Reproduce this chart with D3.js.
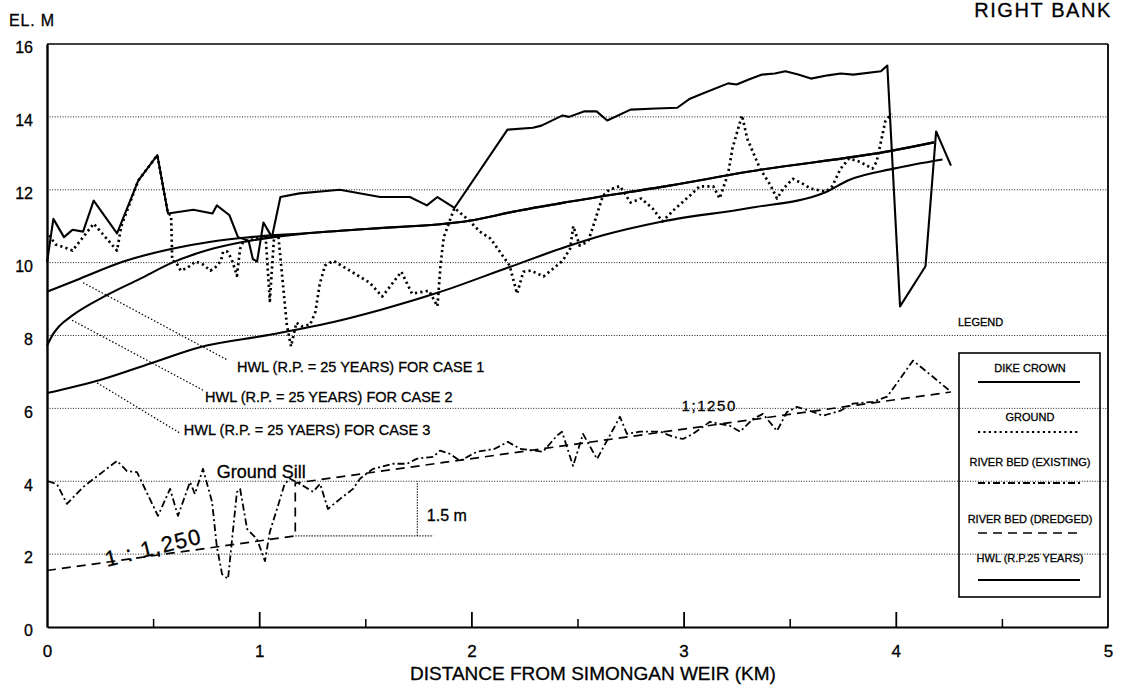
<!DOCTYPE html>
<html>
<head>
<meta charset="utf-8">
<script src="https://cdn.jsdelivr.net/npm/d3@7"></script>
<style>
  body { margin: 0; background: #fff; }
  svg { display: block; font-family: "Liberation Sans", Arial, Helvetica, sans-serif; }
  svg text { fill: #000; stroke: #000; stroke-width: 0.3px; }
</style>
</head>
<body>
<svg id="chart" width="1123" height="697"></svg>
<script>
// ---- axis ticks ----
const yTicks = [0, 2, 4, 6, 8, 10, 12, 14, 16];
const yGrid = [2, 4, 6, 8, 10, 12, 14];
const xTicks = [0, 1, 2, 3, 4, 5];
const xMinorTicks = [0.5, 1.5, 2.5, 3.5, 4.5];

// ---- profiles along the river: [distance km, elevation m] ----
const dikeCrown = [
  [0, 10.0], [0.03, 11.2], [0.08, 10.7], [0.12, 10.9], [0.17, 10.85], [0.22, 11.7],
  [0.33, 10.8], [0.43, 12.25], [0.52, 12.95], [0.57, 11.35], [0.69, 11.45], [0.78, 11.35],
  [0.80, 11.57], [0.86, 11.3], [0.90, 10.7], [0.95, 10.6], [0.97, 10.1], [0.99, 10.03],
  [1.02, 11.1], [1.06, 10.7], [1.10, 11.8], [1.19, 11.9], [1.38, 12.0], [1.57, 11.8],
  [1.71, 11.8], [1.79, 11.57], [1.84, 11.8], [1.92, 11.5], [2.17, 13.65], [2.29, 13.7],
  [2.33, 13.76], [2.43, 14.04], [2.46, 14.0], [2.53, 14.15], [2.59, 14.15], [2.64, 13.9],
  [2.75, 14.2], [2.87, 14.23], [2.97, 14.25], [3.03, 14.5], [3.09, 14.64], [3.21, 14.92],
  [3.25, 14.89], [3.31, 15.03], [3.37, 15.16], [3.43, 15.19], [3.48, 15.25], [3.54, 15.16],
  [3.60, 15.05], [3.68, 15.14], [3.74, 15.19], [3.80, 15.16], [3.93, 15.25], [3.96, 15.41],
  [4.02, 8.8], [4.14, 9.9], [4.19, 13.6], [4.26, 12.66]
];

const ground = [
  [0.01, 10.75], [0.04, 10.5], [0.09, 10.4], [0.12, 10.33], [0.22, 11.07], [0.33, 10.33],
  [0.35, 11.0], [0.43, 12.25], [0.52, 12.95], [0.57, 11.35], [0.585, 11.3], [0.59, 10.05],
  [0.61, 10.0], [0.63, 9.78], [0.66, 9.85], [0.70, 10.03], [0.735, 9.95], [0.77, 9.78],
  [0.79, 9.85], [0.82, 10.05], [0.83, 10.3], [0.85, 10.3], [0.87, 10.1], [0.895, 9.64],
  [0.91, 10.38], [0.925, 10.58], [0.96, 10.62], [1.0, 10.7], [1.03, 10.75], [1.05, 8.95],
  [1.07, 10.7], [1.09, 10.75], [1.13, 8.3], [1.15, 7.7], [1.175, 8.35], [1.2, 8.25],
  [1.24, 8.3], [1.265, 8.65], [1.285, 9.4], [1.31, 9.92], [1.35, 10.05], [1.45, 9.7],
  [1.52, 9.45], [1.58, 9.07], [1.67, 9.75], [1.72, 9.15], [1.8, 9.23], [1.84, 8.8],
  [1.855, 9.97], [1.87, 10.7], [1.92, 11.5], [1.99, 11.15], [2.04, 10.85], [2.09, 10.66],
  [2.18, 9.92], [2.215, 9.15], [2.245, 9.75], [2.28, 9.78], [2.34, 9.62], [2.43, 10.05],
  [2.465, 10.38], [2.48, 11.0], [2.51, 10.47], [2.55, 10.58], [2.57, 10.93], [2.62, 11.84],
  [2.65, 12.0], [2.70, 12.1], [2.75, 11.65], [2.80, 11.76], [2.855, 11.48], [2.9, 11.13],
  [2.96, 11.48], [3.03, 11.84], [3.075, 12.09], [3.14, 12.09], [3.17, 11.76], [3.21, 12.45],
  [3.23, 13.13], [3.275, 14.04], [3.3, 13.4], [3.36, 12.58], [3.41, 12.12], [3.44, 11.76],
  [3.47, 12.03], [3.515, 12.3], [3.56, 12.17], [3.6, 12.03], [3.67, 11.95], [3.7, 12.09],
  [3.74, 12.58], [3.78, 12.86], [3.83, 12.77], [3.89, 12.58], [3.91, 12.77], [3.95, 13.87],
  [3.98, 14.09]
];

const riverBedExisting = [
  [0.005, 4.0], [0.047, 3.92], [0.094, 3.38], [0.17, 3.84], [0.33, 4.56], [0.377, 4.28],
  [0.424, 4.25], [0.523, 3.05], [0.58, 3.79], [0.617, 3.05], [0.674, 3.98], [0.697, 3.65],
  [0.735, 4.34], [0.778, 3.43], [0.80, 2.22], [0.825, 1.45], [0.853, 1.32], [0.895, 3.7],
  [0.91, 3.79], [0.943, 2.69], [0.99, 2.41], [1.027, 1.81], [1.05, 2.61], [1.084, 3.24],
  [1.12, 3.93], [1.145, 4.07], [1.206, 3.88], [1.254, 3.71], [1.287, 3.93], [1.324, 3.24],
  [1.38, 3.51], [1.442, 3.79], [1.475, 4.07], [1.536, 4.34], [1.63, 4.48], [1.697, 4.48],
  [1.744, 4.62], [1.82, 4.67], [1.852, 4.84], [1.9, 4.75], [1.946, 4.56], [2.026, 4.81],
  [2.11, 4.89], [2.172, 5.08], [2.229, 4.89], [2.337, 4.81], [2.403, 5.25], [2.427, 5.36],
  [2.479, 4.42], [2.526, 5.3], [2.592, 4.61], [2.7, 5.77], [2.733, 5.3], [2.795, 5.36],
  [2.89, 5.36], [2.95, 5.22], [2.997, 5.16], [3.044, 5.3], [3.124, 5.63], [3.219, 5.52],
  [3.266, 5.36], [3.327, 5.71], [3.374, 5.85], [3.44, 5.38], [3.487, 5.9], [3.534, 6.04],
  [3.596, 5.93], [3.657, 5.8], [3.737, 5.93], [3.798, 6.13], [3.892, 6.18], [3.959, 6.32],
  [4.01, 6.73], [4.081, 7.31], [4.147, 7.0], [4.255, 6.48]
];

// dredged bed at 1 : 1,250 with a 1.5 m ground sill step
const riverBedDredged = [[0, 1.55], [1.17, 2.5], [1.17, 3.95], [4.26, 6.45]];

const hwlCase1 = [
  [0, 9.2], [0.155, 9.56], [0.36, 10.03], [0.59, 10.38], [0.78, 10.58], [0.94, 10.69],
  [1.2, 10.8], [1.52, 10.93], [1.99, 11.15], [2.2, 11.4], [2.46, 11.67], [2.94, 12.12],
  [3.31, 12.5], [3.99, 13.08], [4.18, 13.3]
];
const hwlCase2 = [
  [0, 7.72], [0.03, 8.05], [0.06, 8.27], [0.12, 8.55], [0.28, 9.1], [0.44, 9.56],
  [0.59, 10.0], [0.75, 10.33], [0.91, 10.55], [1.07, 10.7], [1.3, 10.84], [1.52, 10.93],
  [1.99, 11.15], [2.2, 11.4], [2.46, 11.67], [2.94, 12.12], [3.31, 12.5], [3.99, 13.08],
  [4.18, 13.3]
];
const hwlCase3 = [
  [0, 6.42], [0.25, 6.78], [0.49, 7.24], [0.72, 7.68], [1.04, 8.01], [1.35, 8.37],
  [1.57, 8.7], [1.84, 9.17], [2.18, 9.88], [2.45, 10.44], [2.62, 10.75], [2.9, 11.13],
  [3.31, 11.5], [3.66, 11.91], [3.78, 12.27], [3.99, 12.58], [4.22, 12.83]
];

// ---- labels ----
const hwlLabels = [
  "HWL (R.P. = 25 YEARS) FOR CASE 1",
  "HWL (R.P. = 25 YEARS) FOR CASE 2",
  "HWL (R.P. = 25 YAERS) FOR CASE 3"
];
// leader from curve [km, m] to label anchor [km, m]
const hwlLeaders = [
  [[0.17, 9.45], [0.85, 7.33]],
  [[0.118, 8.42], [0.735, 6.5]],
  [[0.236, 6.7], [0.627, 5.32]]
];
const hwlLabelAt = [[0.895, 7.13], [0.745, 6.31], [0.645, 5.4]];

const legendLabels = ["DIKE CROWN", "GROUND", "RIVER BED (EXISTING)", "RIVER BED (DREDGED)", "HWL (R.P.25 YEARS)"];
const legendKeys = ["dike", "ground", "existing", "dredged", "hwl"];

// ---- drawing ----
const svg = d3.select("#chart");
const x = d3.scaleLinear().domain([0, 5]).range([47, 1108]);
const y = d3.scaleLinear().domain([0, 16]).range([627, 44]);

const lineStyle = {
  dike:     { w: 2.1, dash: null },
  ground:   { w: 2.7, dash: "2.2,3.2" },
  existing: { w: 1.8, dash: "7,3,2,3" },
  dredged:  { w: 1.7, dash: "9,6" },
  hwl:      { w: 2.1, dash: null }
};

// grid
svg.append("g").selectAll("line").data(yGrid).join("line")
  .attr("x1", x(0)).attr("x2", x(5))
  .attr("y1", d => y(d)).attr("y2", d => y(d))
  .attr("stroke", "#222").attr("stroke-width", 1)
  .attr("stroke-dasharray", "1,1.6");

// frame: top and right
svg.append("line").attr("x1", x(0)).attr("x2", x(5)).attr("y1", y(16)).attr("y2", y(16))
  .attr("stroke", "#000").attr("stroke-width", 1.6);
svg.append("line").attr("x1", x(5)).attr("x2", x(5)).attr("y1", y(16)).attr("y2", y(0))
  .attr("stroke", "#000").attr("stroke-width", 1.8);

// x axis with inward ticks
const xAxis = svg.append("g").attr("transform", `translate(0,${y(0)})`)
  .call(d3.axisBottom(x).tickValues(xTicks).tickSize(-15).tickPadding(18)
    .tickFormat(d3.format("d")).tickSizeOuter(0));
xAxis.select(".domain").attr("stroke-width", 2.2);
xAxis.selectAll(".tick line").attr("stroke-width", 1.8);
xAxis.selectAll(".tick text").attr("font-size", 17).attr("font-family", "Liberation Sans, Arial, sans-serif");
xAxis.selectAll(".tick").filter(d => d === 0 || d === 5).select("line").remove();

svg.append("g").attr("transform", `translate(0,${y(0)})`)
  .call(d3.axisBottom(x).tickValues(xMinorTicks).tickSize(-8).tickFormat("").tickSizeOuter(0))
  .call(g => g.select(".domain").remove())
  .selectAll(".tick line").attr("stroke-width", 1.5);

// y axis
const yAxis = svg.append("g").attr("transform", `translate(${x(0)},0)`)
  .call(d3.axisLeft(y).tickValues(yTicks).tickSize(0).tickPadding(14).tickSizeOuter(0));
yAxis.select(".domain").attr("stroke-width", 2.4);
yAxis.selectAll(".tick text").attr("font-size", 16).attr("dy", "0.55em")
  .attr("font-family", "Liberation Sans, Arial, sans-serif");

// axis titles
svg.append("text").attr("x", 9).attr("y", 20).attr("dominant-baseline", "central")
  .attr("font-size", 16).style("letter-spacing", "0.8px").text("EL. M");
svg.append("text").attr("x", 1112).attr("y", 10).attr("dominant-baseline", "central")
  .attr("text-anchor", "end").attr("font-size", 20).style("letter-spacing", "1.6px").text("RIGHT BANK");
svg.append("text").attr("x", 593).attr("y", 673).attr("dominant-baseline", "central")
  .attr("text-anchor", "middle").attr("font-size", 19).text("DISTANCE FROM SIMONGAN WEIR (KM)");

// profiles
const line = d3.line().x(d => x(d[0])).y(d => y(d[1]));
const smooth = d3.line().x(d => x(d[0])).y(d => y(d[1])).curve(d3.curveMonotoneX);

function drawPath(data, key, gen) {
  const s = lineStyle[key];
  svg.append("path").datum(data).attr("d", gen)
    .attr("fill", "none").attr("stroke", "#000")
    .attr("stroke-width", s.w).attr("stroke-dasharray", s.dash)
    .attr("stroke-linejoin", "round");
}
drawPath(riverBedDredged, "dredged", line);
drawPath(riverBedExisting, "existing", line);
drawPath(hwlCase3, "hwl", smooth);
drawPath(hwlCase2, "hwl", smooth);
drawPath(hwlCase1, "hwl", smooth);
drawPath(ground, "ground", line);
drawPath(dikeCrown, "dike", line);

// HWL leaders and labels
hwlLeaders.forEach((l, i) => {
  svg.append("line")
    .attr("x1", x(l[0][0])).attr("y1", y(l[0][1]))
    .attr("x2", x(l[1][0])).attr("y2", y(l[1][1]))
    .attr("stroke", "#000").attr("stroke-width", 1.2).attr("stroke-dasharray", "1.5,2");
  svg.append("text").attr("x", x(hwlLabelAt[i][0])).attr("y", y(hwlLabelAt[i][1]))
    .attr("dominant-baseline", "central").attr("font-size", 14.5).text(hwlLabels[i]);
});

// ground sill annotations
svg.append("text").attr("x", x(0.8)).attr("y", y(4.09)).attr("font-size", 18).text("Ground Sill");
svg.append("text").attr("transform", `translate(${x(0.283)},${y(1.65)}) rotate(-14)`)
  .attr("font-size", 22).style("letter-spacing", "1.5px").text("1 : 1,250");
svg.append("text").attr("x", x(2.99)).attr("y", y(5.93)).attr("font-size", 15)
  .style("letter-spacing", "1.6px").text("1;1250");

// 1.5 m step dimension
svg.append("line").attr("x1", x(1.17)).attr("x2", x(1.82)).attr("y1", y(2.5)).attr("y2", y(2.5))
  .attr("stroke", "#000").attr("stroke-width", 1).attr("stroke-dasharray", "1.5,1.2");
svg.append("line").attr("x1", x(1.745)).attr("x2", x(1.745)).attr("y1", y(2.5)).attr("y2", y(4.0))
  .attr("stroke", "#000").attr("stroke-width", 1).attr("stroke-dasharray", "1.5,1.2");
svg.append("text").attr("x", x(1.79)).attr("y", y(2.9)).attr("font-size", 16).text("1.5 m");

// legend
svg.append("text").attr("x", 958).attr("y", 322).attr("dominant-baseline", "central")
  .attr("font-size", 11).text("LEGEND");
svg.append("rect").attr("x", 959).attr("y", 353).attr("width", 141).attr("height", 244)
  .attr("fill", "none").attr("stroke", "#000").attr("stroke-width", 1.6);
const legTextY = [368, 417, 462, 519, 558];
const legLineY = [382, 432, 483, 533, 580];
legendLabels.forEach((t, i) => {
  svg.append("text").attr("x", 1030).attr("y", legTextY[i]).attr("text-anchor", "middle")
    .attr("dominant-baseline", "central").attr("font-size", 11).text(t);
  const s = lineStyle[legendKeys[i]];
  svg.append("line").attr("x1", 978).attr("x2", 1080).attr("y1", legLineY[i]).attr("y2", legLineY[i])
    .attr("stroke", "#000").attr("stroke-width", Math.min(s.w, 1.8)).attr("stroke-dasharray", s.dash);
});
</script>
</body>
</html>
